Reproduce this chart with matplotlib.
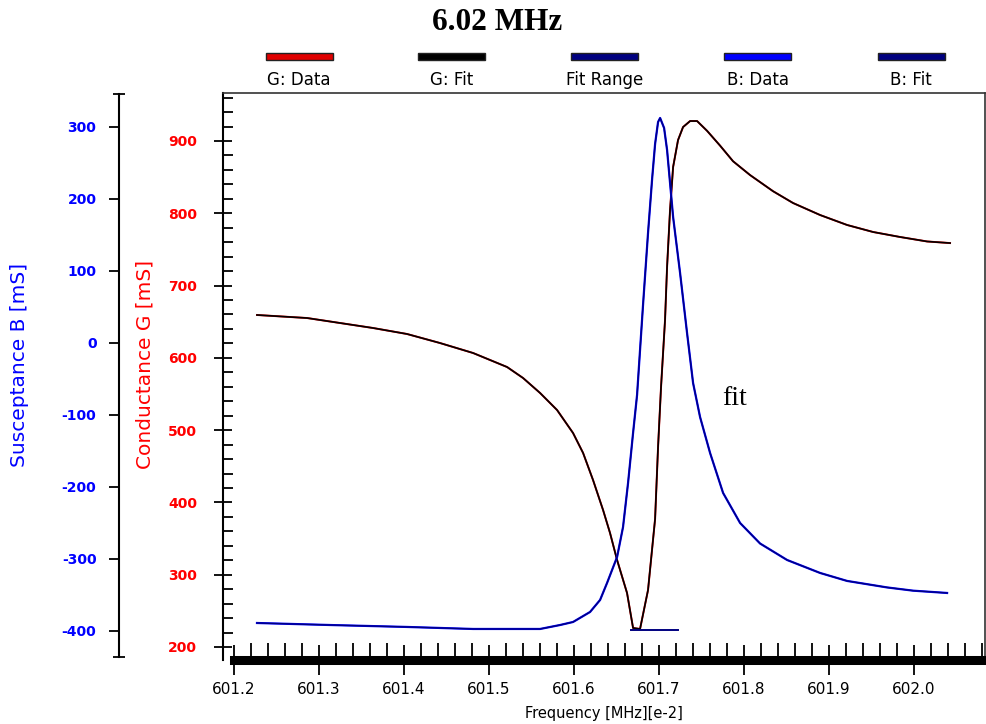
import matplotlib
matplotlib.use('Agg')
import matplotlib.pyplot as plt
from matplotlib.patches import Rectangle
from matplotlib.ticker import MultipleLocator, FormatStrFormatter

plt.rcParams['axes.unicode_minus'] = False

# conductance sweep (G data and G fit sit on top of each other)
freq_g = [601.2276, 601.2865, 601.3253, 601.3641, 601.4041, 601.4429, 601.4818,
          601.5218, 601.5406, 601.5606, 601.5806, 601.5994, 601.6112, 601.6229,
          601.6347, 601.6429, 601.6512, 601.6629, 601.6700, 601.6782, 601.6876,
          601.6959, 601.6994, 601.7029, 601.7076, 601.7100, 601.7135, 601.7171,
          601.7229, 601.7288, 601.7371, 601.7453, 601.7571, 601.7724, 601.7876,
          601.8076, 601.8347, 601.8582, 601.8900, 601.9218, 601.9524, 601.9841,
          602.0159, 602.0429]
g_vals = [659.3, 655.1, 648.2, 641.3, 633.0, 620.5, 606.7,
          587.3, 572.1, 551.4, 527.8, 496.0, 468.4, 431.0,
          389.5, 357.7, 320.3, 274.7, 226.3, 224.9, 278.8,
          377.1, 476.7, 559.7, 652.3, 725.7, 804.5, 864.0,
          901.3, 919.3, 927.6, 927.6, 914.0, 893.5, 872.0,
          852.9, 830.5, 814.2, 797.6, 783.8, 774.1, 767.2,
          761.0, 758.8]

# susceptance sweep (B data and B fit)
freq_b = [601.2276, 601.3135, 601.4041, 601.4818, 601.5606, 601.5841, 601.5994,
          601.6194, 601.6312, 601.6394, 601.6512, 601.6582, 601.6641, 601.6700,
          601.6747, 601.6782, 601.6818, 601.6876, 601.6924, 601.6959, 601.6994,
          601.7018, 601.7065, 601.7100, 601.7171, 601.7253, 601.7335, 601.7406,
          601.7488, 601.7606, 601.7759, 601.7959, 601.8194, 601.8512, 601.8900,
          601.9218, 601.9688, 601.9994, 602.0394]
b_vals = [-388.9, -391.7, -394.4, -397.2, -397.2, -391.7, -387.5,
          -373.6, -356.9, -333.3, -297.2, -255.6, -194.4, -125.0,
          -72.2, -9.7, 54.2, 152.8, 227.8, 276.4, 306.9,
          312.5, 298.6, 268.1, 175.0, 97.2, 13.9, -55.6,
          -102.8, -152.8, -208.3, -250.0, -278.5, -301.4, -319.4,
          -330.5, -339.5, -344.0, -347.2]

fit_range = [601.668, 601.723]
fit_level = 224

legend_labels = ['G: Data', 'G: Fit', 'Fit Range', 'B: Data', 'B: Fit']
legend_colors = ['#e00000', '#000000', '#000080', '#0000ff', '#000080']

W, H = 987, 724
fig = plt.figure(figsize=(W / 100, H / 100), dpi=100)
ax = fig.add_axes([223 / W, 1 - 659.5 / H, 762 / W, 566.5 / H])
ax.set_xlim(601.1876, 602.084)
ax.set_ylim(182.7, 966.4)

ax.plot(freq_g, g_vals, color=legend_colors[0], lw=1.4, zorder=2)
ax.plot(freq_g, g_vals, color=legend_colors[1], lw=1.2, zorder=3)
ax.plot(fit_range, [fit_level, fit_level], color=legend_colors[2], lw=1.4, zorder=3)

# susceptance on its own scale, spine pulled out to the left
ax2 = ax.twinx()
ax2.set_ylim(-439.6, 347.2)
ax2.plot(freq_b, b_vals, color=legend_colors[3], lw=1.6, zorder=2)
ax2.plot(freq_b, b_vals, color=legend_colors[4], lw=1.0, zorder=3)

# frame
for side in ['top', 'right']:
    ax.spines[side].set_linewidth(1.2)
    ax.spines[side].set_color('#333333')
ax.spines['left'].set_linewidth(1.5)
ax.spines['bottom'].set_linewidth(6.5)
ax.spines['bottom'].set_bounds(601.2, 602.084)

ax.xaxis.set_major_locator(MultipleLocator(0.1))
ax.xaxis.set_minor_locator(MultipleLocator(0.02))
ax.xaxis.set_major_formatter(FormatStrFormatter('%.1f'))
ax.tick_params(axis='x', which='major', direction='inout', length=21, width=1.3,
               pad=6, labelsize=11)
ax.tick_params(axis='x', which='minor', direction='in', length=12, width=1.3)
ax.set_xlabel('Frequency [MHz][e-2]', fontsize=10.5, labelpad=6)

ax.yaxis.set_major_locator(MultipleLocator(100))
ax.yaxis.set_minor_locator(MultipleLocator(20))
ax.tick_params(axis='y', which='major', direction='inout', length=13, width=1.3,
               pad=12, labelsize=10, labelcolor='red')
ax.tick_params(axis='y', which='minor', direction='in', length=7.2, width=1.3)
for lbl in ax.get_yticklabels():
    lbl.set_fontweight('bold')
ax.set_ylabel('Conductance G [mS]', color='red', fontsize=14.5, va='center')
ax.yaxis.set_label_coords((145 - 223) / 762, 0.52)

for side in ['top', 'right', 'bottom']:
    ax2.spines[side].set_visible(False)
ax2.spines['left'].set_position(('axes', (119 - 223) / 762))
ax2.spines['left'].set_linewidth(1.5)
ax2.spines['left'].set_bounds(-436, 346)
ax2.yaxis.set_ticks_position('left')
ax2.yaxis.set_label_position('left')
ax2.set_yticks(range(-400, 301, 100))
ax2.set_yticks([-436, 346], minor=True)
ax2.tick_params(axis='y', which='major', direction='out', length=7.2, width=1.3,
                pad=9, labelsize=10, labelcolor='blue')
ax2.tick_params(axis='y', which='minor', direction='inout', length=8.6, width=1.3)
for lbl in ax2.get_yticklabels():
    lbl.set_fontweight('bold')
ax2.set_ylabel('Susceptance B [mS]', color='blue', fontsize=14.5, va='center')
ax2.yaxis.set_label_coords((20 - 223) / 762, 0.52)

ax.text(601.789, 544, 'fit', fontsize=20, family='Liberation Serif',
        ha='center', va='center', zorder=5)

# title and legend strip above the frame
fig.text(497 / W, 1 - 22 / H, '6.02 MHz', fontsize=22.5, fontweight='bold',
         family='Liberation Serif', ha='center', va='center')
for i, (name, col) in enumerate(zip(legend_labels, legend_colors)):
    cx = 299 + 153 * i
    fig.add_artist(Rectangle(((cx - 33.5) / W, 1 - 59.5 / H), 67 / W, 6.5 / H,
                             transform=fig.transFigure, facecolor=col,
                             edgecolor='#222222', lw=1.0))
    fig.text(cx / W, 1 - 80 / H, name, fontsize=12, ha='center', va='center')

fig.savefig('out.png', dpi=100)
